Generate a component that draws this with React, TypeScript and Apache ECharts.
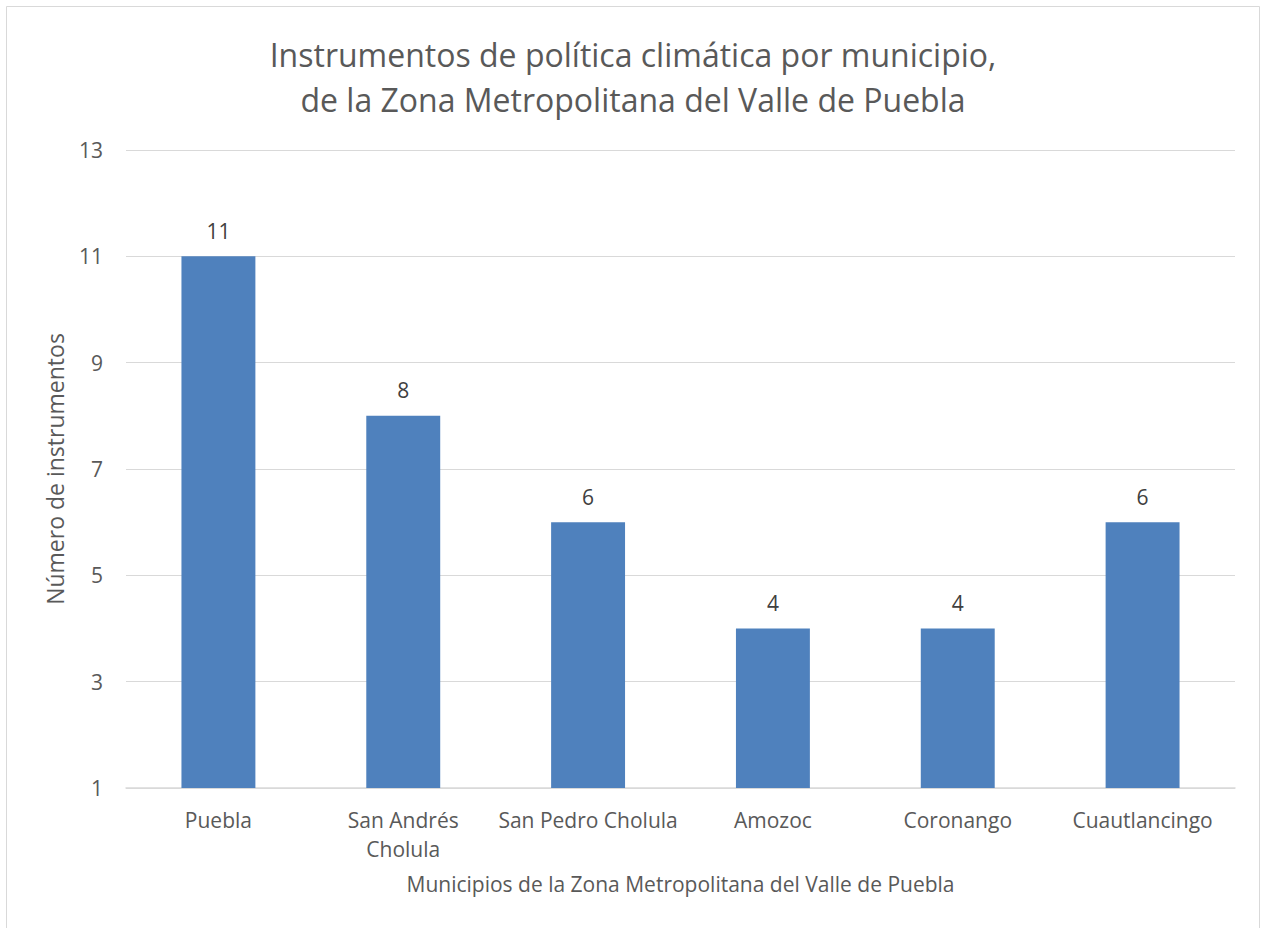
import React, { useEffect, useRef } from "react";
import * as echarts from "echarts";

const categories = ["Puebla", "San Andrés\nCholula", "San Pedro Cholula", "Amozoc", "Coronango", "Cuautlancingo"];
const values = [11, 8, 6, 4, 4, 6];
const yTicks = [1, 3, 5, 7, 9, 11, 13];
const titleText = "Instrumentos de política climática por municipio,\nde la Zona Metropolitana del Valle de Puebla";
const yName = "Número de instrumentos";
const xName = "Municipios de la Zona Metropolitana del Valle de Puebla";

const FONT = "'Open Sans', 'Noto Sans', sans-serif";

export default function App() {
  const ref = useRef<HTMLDivElement>(null);
  useEffect(() => {
    if (!ref.current) return;
    const chart = echarts.init(ref.current, null, { renderer: "svg" });
    chart.setOption({
      animation: false,
      backgroundColor: "#ffffff",
      textStyle: { fontFamily: FONT },
      title: {
        text: titleText,
        left: "center",
        top: 27,
        textStyle: { fontFamily: FONT, fontSize: 32, fontWeight: "normal", color: "#595959", lineHeight: 45 },
      },
      graphic: [
        {
          type: "rect",
          shape: { x: 6.5, y: 6.5, width: 1253, height: 960 },
          style: { fill: "none", stroke: "#d9d9d9", lineWidth: 1 },
          silent: true,
        },
      ],
      grid: { left: 126, right: 31, top: 150, bottom: 140, containLabel: false },
      xAxis: {
        type: "category",
        data: categories,
        name: xName,
        nameLocation: "middle",
        nameGap: 85,
        nameTextStyle: { fontFamily: FONT, fontSize: 21, color: "#595959" },
        axisLine: { show: true, lineStyle: { color: "#d9d9d9", width: 1.5 } },
        axisTick: { show: false },
        axisLabel: { fontFamily: FONT, fontSize: 21, color: "#595959", margin: 17, lineHeight: 29, interval: 0 },
      },
      yAxis: {
        type: "value",
        min: 1,
        max: 13,
        name: yName,
        nameLocation: "middle",
        nameGap: 60,
        nameTextStyle: { fontFamily: FONT, fontSize: 23, color: "#595959" },
        axisLine: { show: false },
        axisTick: { show: false, customValues: yTicks },
        axisLabel: { fontFamily: FONT, fontSize: 21, color: "#595959", margin: 23, customValues: yTicks },
        splitLine: { show: true, lineStyle: { color: "#d9d9d9", width: 1 } },
      },
      series: [
        {
          type: "bar",
          data: values,
          barCategoryGap: "60%",
          itemStyle: { color: "#4F81BD" },
          label: {
            show: true,
            position: "top",
            distance: 15,
            fontFamily: FONT,
            fontSize: 21,
            color: "#404040",
          },
        },
      ],
    });
    return () => chart.dispose();
  }, []);
  return (
    <div
      ref={ref}
      style={{ position: "absolute", left: 0, top: 0, width: 1266, height: 928 }}
    />
  );
}
